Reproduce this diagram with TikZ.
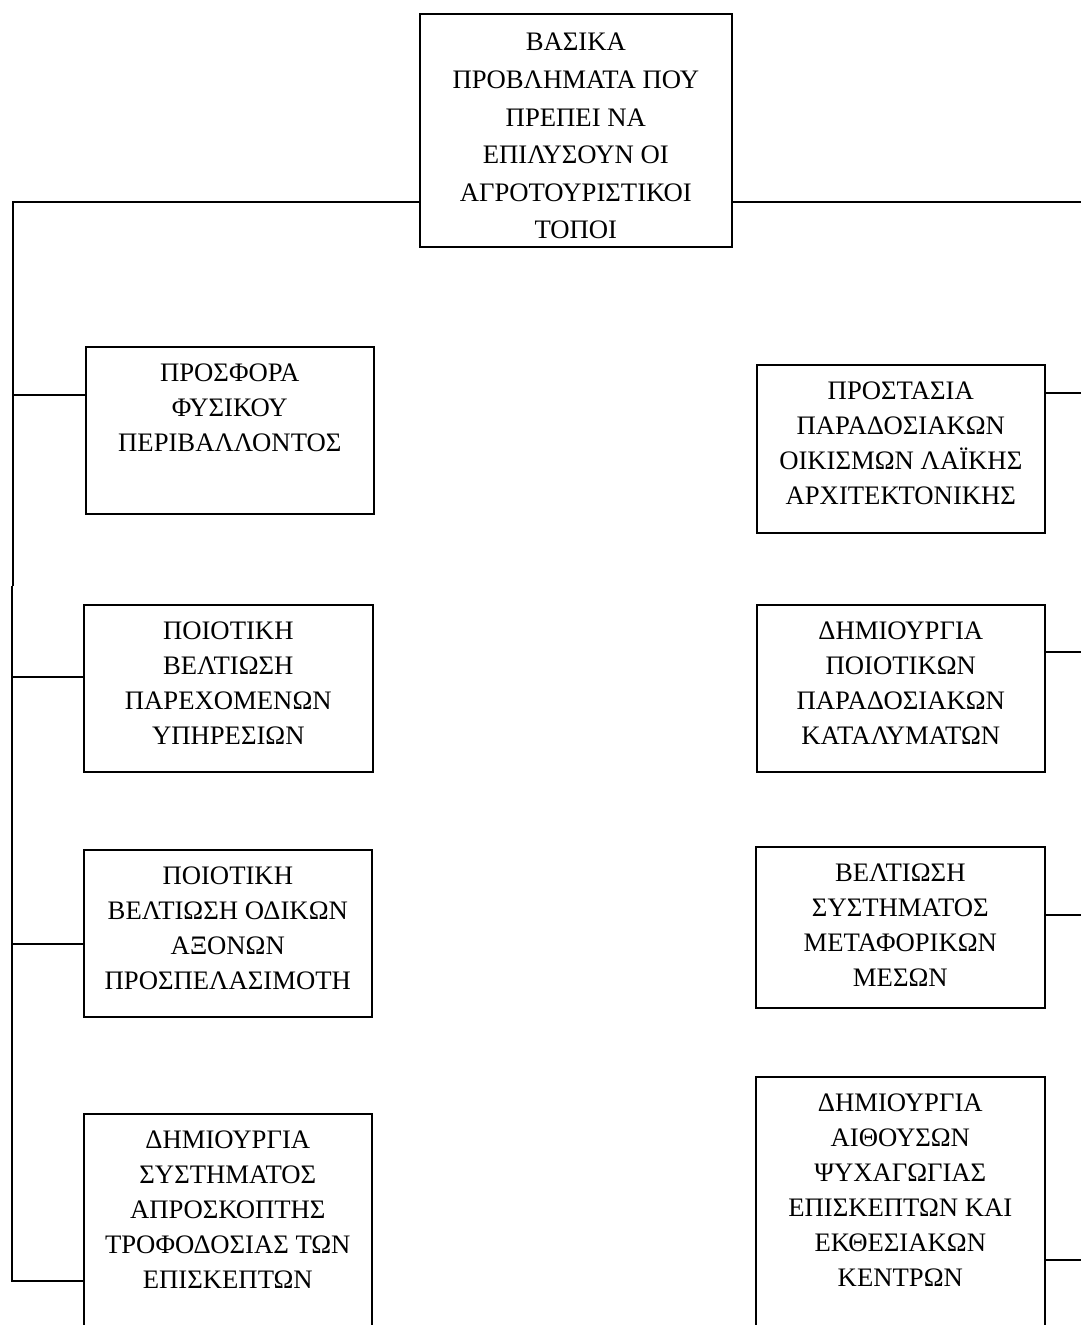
\documentclass[tikz,border=0pt]{standalone}
\usepackage{fontspec}
\setmainfont{Liberation Serif}
\tikzset{
  box/.style={draw=black, line width=1.6pt, inner sep=0pt, anchor=north west, fill=white},
  link/.style={draw=black, line width=1.2pt},
}
\newcommand{\boxtext}[3]{\parbox[c][#2pt][t]{#1pt}{\centering\fontsize{26.7}{35}\selectfont\rule{0pt}{35pt}#3\par}}
\newcommand{\toptext}[3]{\parbox[c][#2pt][t]{#1pt}{\centering\fontsize{26.7}{37.6}\selectfont\rule{0pt}{37pt}#3\par}}
\begin{document}
\begin{tikzpicture}[x=1pt, y=-1pt]
\useasboundingbox (0,0) rectangle (1081,1325);
\clip (0,0) rectangle (1081,1325);
\fill[white] (0,0) rectangle (1081,1325);

% top
\node[box] (top) at (419,13) {\toptext{312}{233}{ΒΑΣΙΚΑ\\ ΠΡΟΒΛΗΜΑΤΑ ΠΟΥ\\ ΠΡΕΠΕΙ ΝΑ\\ ΕΠΙΛΥΣΟΥΝ ΟΙ\\ ΑΓΡΟΤΟΥΡΙΣΤΙΚΟΙ\\ ΤΟΠΟΙ}};

% left column
\node[box] (l1) at (85,346) {\boxtext{288}{167}{ΠΡΟΣΦΟΡΑ\\ ΦΥΣΙΚΟΥ\\ ΠΕΡΙΒΑΛΛΟΝΤΟΣ}};
\node[box] (l2) at (83,604) {\boxtext{289}{167}{ΠΟΙΟΤΙΚΗ\\ ΒΕΛΤΙΩΣΗ\\ ΠΑΡΕΧΟΜΕΝΩΝ\\ ΥΠΗΡΕΣΙΩΝ}};
\node[box] (l3) at (83,849) {\boxtext{288}{167}{ΠΟΙΟΤΙΚΗ\\ ΒΕΛΤΙΩΣΗ ΟΔΙΚΩΝ\\ ΑΞΟΝΩΝ\\ ΠΡΟΣΠΕΛΑΣΙΜΟΤΗ}};
\node[box] (l4) at (83,1113) {\boxtext{288}{300}{ΔΗΜΙΟΥΡΓΙΑ\\ ΣΥΣΤΗΜΑΤΟΣ\\ ΑΠΡΟΣΚΟΠΤΗΣ\\ ΤΡΟΦΟΔΟΣΙΑΣ ΤΩΝ\\ ΕΠΙΣΚΕΠΤΩΝ}};

% right column
\node[box] (r1) at (756,364) {\boxtext{288}{168}{ΠΡΟΣΤΑΣΙΑ\\ ΠΑΡΑΔΟΣΙΑΚΩΝ\\ ΟΙΚΙΣΜΩΝ ΛΑΪΚΗΣ\\ ΑΡΧΙΤΕΚΤΟΝΙΚΗΣ}};
\node[box] (r2) at (756,604) {\boxtext{288}{167}{ΔΗΜΙΟΥΡΓΙΑ\\ ΠΟΙΟΤΙΚΩΝ\\ ΠΑΡΑΔΟΣΙΑΚΩΝ\\ ΚΑΤΑΛΥΜΑΤΩΝ}};
\node[box] (r3) at (755,846) {\boxtext{289}{161}{ΒΕΛΤΙΩΣΗ\\ ΣΥΣΤΗΜΑΤΟΣ\\ ΜΕΤΑΦΟΡΙΚΩΝ\\ ΜΕΣΩΝ}};
\node[box] (r4) at (755,1076) {\boxtext{289}{300}{ΔΗΜΙΟΥΡΓΙΑ\\ ΑΙΘΟΥΣΩΝ\\ ΨΥΧΑΓΩΓΙΑΣ\\ ΕΠΙΣΚΕΠΤΩΝ ΚΑΙ\\ ΕΚΘΕΣΙΑΚΩΝ\\ ΚΕΝΤΡΩΝ}};

% spine coordinates (left)
\coordinate (s0) at (13,202);
\coordinate (sb1) at (13,586);
\coordinate (sb2) at (12,586);
\coordinate (s1) at (13,395);
\coordinate (s2) at (12,677);
\coordinate (s3) at (12,944);
\coordinate (s4) at (12,1281);

% right edge coordinates
\coordinate (e0) at (1081,202);
\coordinate (e1) at (1081,393);
\coordinate (e2) at (1081,652);
\coordinate (e3) at (1081,915);
\coordinate (e4) at (1081,1260);

% left connectors
\draw[link] (top.west |- s0) -- (s0) -- (sb1);
\draw[link] (sb2) -- (s4) -- (l4.west |- s4);
\draw[link] (s1) -- (l1.west |- s1);
\draw[link] (s2) -- (l2.west |- s2);
\draw[link] (s3) -- (l3.west |- s3);

% right connectors
\draw[link] (top.east |- e0) -- (e0);
\draw[link] (r1.east |- e1) -- (e1);
\draw[link] (r2.east |- e2) -- (e2);
\draw[link] (r3.east |- e3) -- (e3);
\draw[link] (r4.east |- e4) -- (e4);
\end{tikzpicture}
\end{document}
